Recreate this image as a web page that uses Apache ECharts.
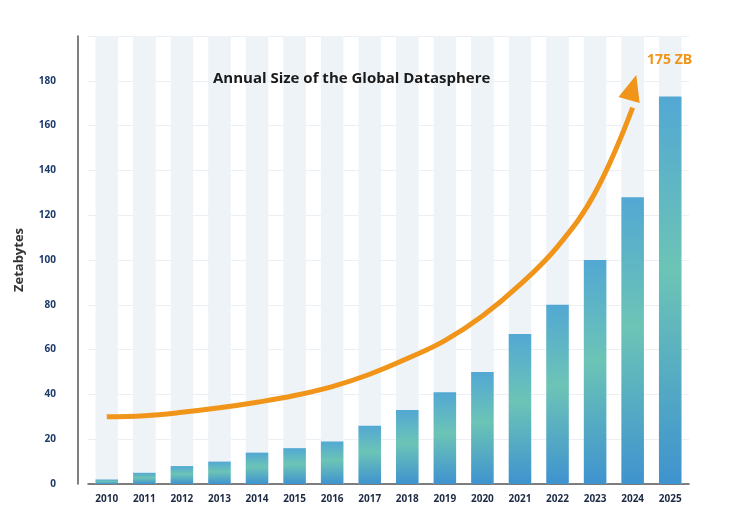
<!DOCTYPE html>
<html><head><meta charset="utf-8">
<script src="https://cdn.jsdelivr.net/npm/echarts@6/dist/echarts.min.js"></script>
<style>html,body{margin:0;background:#fff}#c{width:730px;height:528px}</style>
</head><body><div id="c"></div>
<script>
var years = ['2010','2011','2012','2013','2014','2015','2016','2017','2018','2019','2020','2021','2022','2023','2024','2025'];
var sizes = [2, 5, 8, 10, 14, 16, 19, 26, 33, 41, 50, 67, 80, 100, 128, 173];
var trend = [30, 30.5, 32, 34, 36.5, 39.5, 43.5, 49, 56, 64, 75, 89, 106, 130, 168, null];
var yTicks = [0, 20, 40, 60, 80, 100, 120, 140, 160, 180];

var chart = echarts.init(document.getElementById('c'));
chart.setOption({
    animation: false,
    grid: { left: 88, right: 41, top: 36, bottom: 44 },
    title: [{
        text: 'Annual Size of the Global Datasphere',
        left: 208, top: 66,
        textStyle: { fontFamily: 'Open Sans', fontSize: 15, fontWeight: 'bold', color: '#1a1a1a' }
    }, {
        text: '175 ZB',
        left: 642, top: 48,
        textStyle: { fontFamily: 'Open Sans', fontSize: 14, fontWeight: 'bold', color: '#f0951a' }
    }],
    xAxis: {
        type: 'category', data: years,
        axisLine: { lineStyle: { color: '#555', width: 1.5 } },
        axisTick: { show: false },
        axisLabel: { color: '#1d2a44', fontWeight: 'bold', fontSize: 10, fontFamily: 'Open Sans', margin: 10 }
    },
    yAxis: {
        type: 'value', min: 0, max: 200, interval: 20, offset: 10,
        name: 'Zetabytes', nameLocation: 'middle', nameGap: 52,
        nameTextStyle: { color: '#333', fontSize: 13, fontWeight: 'bold', fontFamily: 'Open Sans' },
        axisLine: { show: true, lineStyle: { color: '#555', width: 1.5 } },
        axisTick: { show: false },
        splitLine: { lineStyle: { color: '#eceff3' } },
        axisLabel: {
            color: '#1d3a6a', fontWeight: 'bold', fontSize: 10, fontFamily: 'Open Sans', margin: 22,
            formatter: function (v) { return yTicks.indexOf(v) >= 0 ? v : ''; }
        }
    },
    series: [{
        type: 'bar', data: sizes, barWidth: '60%',
        showBackground: true,
        backgroundStyle: { color: '#eef3f8' },
        itemStyle: {
            color: new echarts.graphic.LinearGradient(0, 0, 0, 1, [
                { offset: 0, color: '#52a8d3' },
                { offset: 0.45, color: '#6cc4b6' },
                { offset: 1, color: '#3f93cf' }
            ])
        }
    }, {
        type: 'line', data: trend, smooth: 0.4, symbol: 'none',
        lineStyle: { color: '#f0951a', width: 5 },
        markPoint: {
            symbol: 'triangle', symbolSize: [22, 26], symbolRotate: -16,
            itemStyle: { color: '#f0951a' },
            label: { show: false },
            data: [{ coord: ['2024', 177] }]
        }
    }]
});
</script></body></html>
